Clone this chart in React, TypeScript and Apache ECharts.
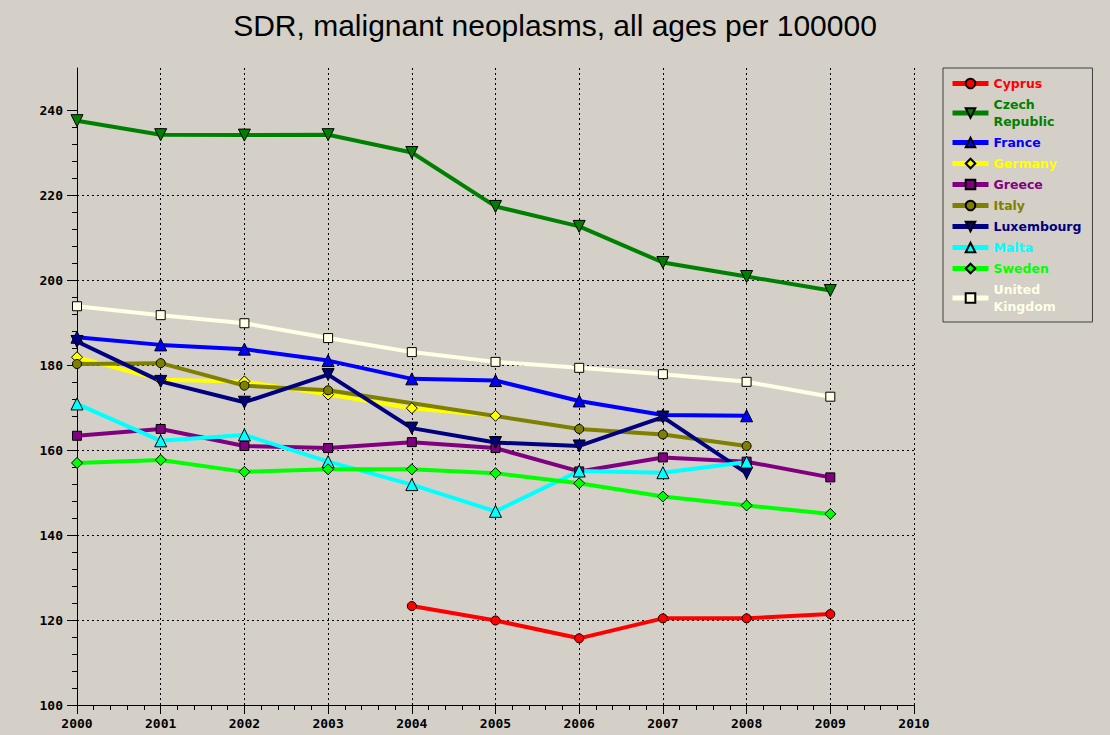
import React, { useEffect, useRef } from "react";
import * as echarts from "echarts";

const years = [2000, 2001, 2002, 2003, 2004, 2005, 2006, 2007, 2008, 2009];
const cyprus = [null, null, null, null, 123.3, 119.9, 115.7, 120.4, 120.4, 121.4];
const czech = [237.6, 234.3, 234.2, 234.3, 230.1, 217.4, 212.7, 204.2, 200.9, 197.6];
const france = [186.6, 184.8, 183.8, 181.1, 176.8, 176.4, 171.6, 168.3, 168.1, null];
const germany = [181.9, 176.6, 176.2, 173.1, 169.9, 168.1, null, null, null, null];
const greece = [163.4, 165.0, 161.0, 160.5, 161.9, 160.5, 155.0, 158.3, 157.3, 153.6];
const italy = [180.3, 180.5, 175.2, 174.1, null, null, 165.0, 163.7, 161.0, null];
const luxembourg = [185.6, 176.2, 171.3, 177.8, 165.2, 161.8, 161.0, 167.8, 154.6, null];
const malta = [170.9, 162.2, 163.6, 157.3, 151.9, 145.6, 155.1, 154.7, 157.2, null];
const sweden = [157.0, 157.7, 154.9, 155.5, 155.5, 154.6, 152.2, 149.1, 147.0, 145.0];
const uk = [193.9, 191.8, 189.9, 186.4, 183.1, 180.8, 179.4, 177.9, 176.1, 172.6];

const yMajorTicks = [100, 120, 140, 160, 180, 200, 220, 240];
const yMinorTicks = [
  104, 108, 112, 116, 124, 128, 132, 136, 144, 148, 152, 156, 164, 168, 172, 176,
  184, 188, 192, 196, 204, 208, 212, 216, 224, 228, 232, 236,
];

const countries = [
  { name: "Cyprus", label: "Cyprus", values: cyprus, color: "#ff0000", symbol: "circle", size: 9, rotate: 0 },
  { name: "Czech Republic", label: "Czech\nRepublic", values: czech, color: "#008000", symbol: "triangle", size: 12, rotate: 180 },
  { name: "France", label: "France", values: france, color: "#0000ff", symbol: "triangle", size: 12, rotate: 0 },
  { name: "Germany", label: "Germany", values: germany, color: "#ffff00", symbol: "diamond", size: 11, rotate: 0 },
  { name: "Greece", label: "Greece", values: greece, color: "#800080", symbol: "rect", size: 9, rotate: 0 },
  { name: "Italy", label: "Italy", values: italy, color: "#808000", symbol: "circle", size: 9, rotate: 0 },
  { name: "Luxembourg", label: "Luxembourg", values: luxembourg, color: "#000080", symbol: "triangle", size: 12, rotate: 180 },
  { name: "Malta", label: "Malta", values: malta, color: "#00ffff", symbol: "triangle", size: 12, rotate: 0 },
  { name: "Sweden", label: "Sweden", values: sweden, color: "#00ff00", symbol: "diamond", size: 11, rotate: 0 },
  { name: "United Kingdom", label: "United\nKingdom", values: uk, color: "#ffffe6", symbol: "rect", size: 9, rotate: 0 },
];

export default function App() {
  const ref = useRef<HTMLDivElement>(null);
  useEffect(() => {
    if (!ref.current) return;
    const chart = echarts.init(ref.current, undefined, { renderer: "svg" });
    const labelMap: Record<string, string> = {};
    countries.forEach((c) => (labelMap[c.name] = c.label));
    const axisFont = { color: "#000", fontFamily: "DejaVu Sans Mono", fontWeight: "bold", fontSize: 13 };
    chart.setOption({
      animation: false,
      backgroundColor: "#d4d0c8",
      title: {
        text: "SDR, malignant neoplasms, all ages per 100000",
        left: "center",
        top: 5,
        textStyle: { fontFamily: "Liberation Sans", fontSize: 30, fontWeight: "normal", color: "#000" },
      },
      legend: {
        orient: "vertical",
        left: 943,
        top: 68,
        padding: [7, 11, 7, 7],
        itemGap: 4,
        itemWidth: 36,
        itemHeight: 12,
        borderColor: "#404040",
        borderWidth: 1,
        lineStyle: { width: 5 },
        formatter: (n: string) => labelMap[n] || n,
        textStyle: { fontFamily: "DejaVu Sans", fontWeight: "bold", fontSize: 12.5, lineHeight: 17 },
        data: countries.map((c) => ({ name: c.name, textStyle: { color: c.color } })),
      },
      grid: { left: 77, right: 196, top: 68, bottom: 30 },
      xAxis: {
        type: "value",
        min: 2000,
        max: 2010,
        interval: 1,
        axisLine: { onZero: false, lineStyle: { color: "#000", width: 1 } },
        axisTick: { show: true, length: 9, lineStyle: { color: "#000" } },
        minorTick: { show: true, splitNumber: 5, length: 5, lineStyle: { color: "#000" } },
        axisLabel: { ...axisFont, margin: 12, formatter: (v: number) => String(v) },
        splitLine: { show: true, showMinLine: false, lineStyle: { color: "#000", type: [2, 3], width: 1 } },
      },
      yAxis: [
        {
          type: "value",
          position: "left",
          min: 100,
          max: 250,
          interval: 20,
          axisLine: { show: true, onZero: false, lineStyle: { color: "#000", width: 1 } },
          axisTick: { show: true, length: 10, customValues: yMajorTicks, lineStyle: { color: "#000" } },
          axisLabel: { ...axisFont, margin: 14, customValues: yMajorTicks },
          splitLine: {
            show: true,
            showMinLine: false,
            showMaxLine: false,
            lineStyle: { color: "#000", type: [2, 3], width: 1 },
          },
        },
        {
          type: "value",
          position: "left",
          offset: 0,
          min: 100,
          max: 250,
          interval: 20,
          axisLine: { show: false },
          axisTick: { show: true, length: 5, customValues: yMinorTicks, lineStyle: { color: "#000" } },
          axisLabel: { show: false },
          splitLine: { show: false },
        },
      ],
      series: countries.map((c) => ({
        name: c.name,
        type: "line",
        yAxisIndex: 0,
        data: years.map((y, i) => [y, c.values[i]]),
        connectNulls: true,
        symbol: c.symbol,
        symbolSize: c.size,
        symbolRotate: c.rotate,
        showAllSymbol: true,
        lineStyle: { color: c.color, width: 4 },
        itemStyle: { color: c.color, borderColor: "#000", borderWidth: 1 },
        emphasis: { disabled: true },
      })),
    });
    return () => chart.dispose();
  }, []);
  return <div ref={ref} style={{ position: "fixed", left: 0, top: 0, width: 1110, height: 735 }} />;
}
